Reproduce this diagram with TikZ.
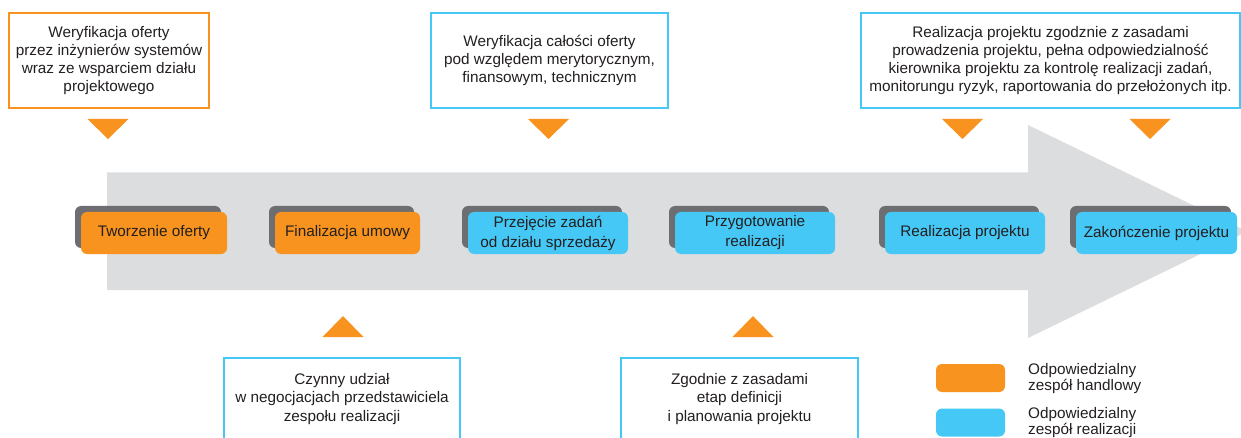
\documentclass[tikz,border=0pt]{standalone}
\usepackage{fontspec}
\setmainfont{Liberation Sans}
\usetikzlibrary{shadows,calc}

\definecolor{sorange}{HTML}{F7931E}
\definecolor{sblue}{HTML}{45C8F5}
\definecolor{arrowgray}{HTML}{DCDDDF}
\definecolor{shadegray}{HTML}{6D6E71}
\definecolor{ink}{HTML}{231F20}

\tikzset{
  txt/.style={text=ink, align=center, font=\fontsize{15.3}{18.3}\selectfont, inner sep=0pt},
  stagebox/.style={txt, rounded corners=6pt, minimum height=42pt,
    font=\fontsize{15.3}{20}\selectfont,
    general shadow={fill=shadegray, shadow xshift=-6pt, shadow yshift=6pt}},
  salesstage/.style={stagebox, fill=sorange},
  realstage/.style={stagebox, fill=sblue},
  notebox/.style={txt, fill=white, line width=1.5pt},
  salesnote/.style={notebox, draw=sorange},
  realnote/.style={notebox, draw=sblue},
  legendkey/.style={rounded corners=6pt, minimum width=69pt, minimum height=28pt, inner sep=0pt},
  legendtxt/.style={txt, align=left, anchor=west, font=\fontsize{15.3}{16.8}\selectfont},
}

% small orange pointers above / below the process arrow
\newcommand\pointdown[1]{\fill[sorange] ($(#1)+(-20.5,0)$) -- ($(#1)+(20.5,0)$) -- ($(#1)+(0,20)$) -- cycle;}
\newcommand\pointup[1]{\fill[sorange] ($(#1)+(-20.5,0)$) -- ($(#1)+(20.5,0)$) -- ($(#1)+(0,-21)$) -- cycle;}

\begin{document}
\begin{tikzpicture}[x=1pt, y=-1pt]
  \useasboundingbox (0,0) rectangle (1241,438);
  \clip (0,0) rectangle (1241,438);

  % big process arrow
  \fill[arrowgray] (107,172.5) -- (1028,172.5) -- (1028,125) -- (1247,231.5)
    -- (1028,338) -- (1028,290) -- (107,290) -- cycle;

  % process stages
  \node[salesstage, minimum width=146pt] (s1) at (154,233) {Tworzenie oferty};
  \node[salesstage, minimum width=145pt] (s2) at (347.5,233) {Finalizacja umowy};
  \node[realstage, minimum width=160pt] (s3) at (548,233) {Przejęcie zadań\\od działu sprzedaży};
  \node[realstage, minimum width=160pt] (s4) at (755,233) {Przygotowanie\\realizacji};
  \node[realstage, minimum width=160pt] (s5) at (965,233) {Realizacja projektu};
  \node[realstage, minimum width=161pt] (s6) at (1156.5,233) {Zakończenie projektu};

  % notes above the arrow
  \node[salesnote, minimum width=200pt, minimum height=95pt] (n1) at (109,60.5)
    {Weryfikacja oferty\\przez inżynierów systemów\\wraz ze wsparciem działu\\projektowego};
  \node[realnote, minimum width=237pt, minimum height=95pt] (n2) at (549.5,60.5)
    {Weryfikacja całości oferty\\pod względem merytorycznym,\\finansowym, technicznym};
  \node[realnote, minimum width=379pt, minimum height=95pt] (n3) at (1050.5,60.5)
    {Realizacja projektu zgodznie z zasadami\\prowadzenia projektu, pełna odpowiedzialność\\kierownika projektu za kontrolę realizacji zadań,\\monitorungu ryzyk, raportowania do przełożonych itp.};

  % notes below the arrow
  \node[realnote, minimum width=236pt, minimum height=82pt] (n4) at (342,399)
    {Czynny udział\\w negocjacjach przedstawiciela\\zespołu realizacji};
  \node[realnote, minimum width=237pt, minimum height=82pt] (n5) at (739.5,399)
    {Zgodnie z zasadami\\etap definicji\\i planowania projektu};

  % pointers
  \pointdown{108,119}
  \pointdown{548.5,119}
  \pointdown{962.5,119}
  \pointdown{1150,119}
  \pointup{343,337}
  \pointup{753,337}

  % legend
  \node[legendkey, fill=sorange] (k1) at (970.5,378) {};
  \node[legendkey, fill=sblue] (k2) at (970.5,422.5) {};
  \node[legendtxt] (l1) at (1028,378.5) {Odpowiedzialny\\zespół handlowy};
  \node[legendtxt] (l2) at (1028,422.5) {Odpowiedzialny\\zespół realizacji};
\end{tikzpicture}
\end{document}
